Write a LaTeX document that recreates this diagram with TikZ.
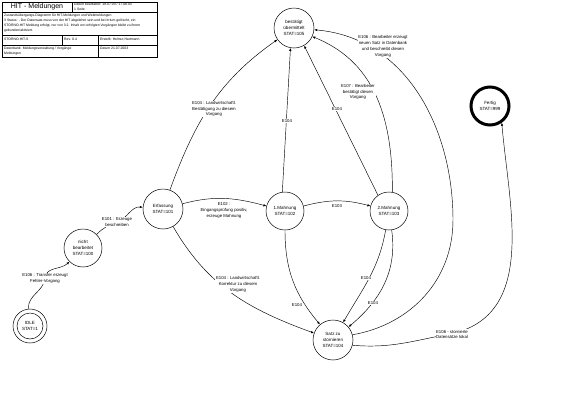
\documentclass[tikz,border=0pt]{standalone}
\usepackage{fontspec}
\setmainfont{Liberation Sans}
\usetikzlibrary{arrows.meta}
\begin{document}
\begin{tikzpicture}[x=1pt,y=1pt,
  stnode/.style={circle,draw,line width=0.5pt,minimum size=40pt,inner sep=0pt,align=center,font=\fontsize{4.5}{5.8}\selectfont},
  conn/.style={draw,line width=0.45pt,-{Latex[length=3pt,width=2.4pt]}},
  lab/.style={fill=white,inner sep=0.6pt,align=center,font=\fontsize{4.3}{5.8}\selectfont},
  hd/.style={font=\fontsize{3.4}{5}\selectfont,inner sep=0pt,anchor=north west,align=left},
  tline/.style={draw,line width=0.5pt}]
\useasboundingbox (0,0) rectangle (574,-400);

% header table
\draw[tline] (2,-2) rectangle (157,-57);
\draw[tline] (2,-12) -- (157,-12);
\draw[tline] (72,-2) -- (72,-12);
\draw[tline] (2,-35) -- (157,-35);
\draw[tline] (2,-45) -- (157,-45);
\draw[tline] (62,-35) -- (62,-45);
\draw[tline] (98,-35) -- (98,-57);
\node[font=\fontsize{7}{8}\selectfont,inner sep=0pt] (title) at (37,-7) {HIT - Meldungen};
\node[hd] (date) at (74,-3.3) {Datum bearbeitet: 18.07.03 / 17.08.03\\1 Seite};
\node[hd] (desc) at (4,-13.5) {Zustandsübergangs-Diagramm für HIT-Meldungen und Webmeldungen\\
3 Status: - Der Datensatz muss von der HIT abgelehnt sein und bei Irrtum gelöscht, ein\\
STORNO-HIT Meldung erfolgt, nur von 3.2. Inhalt von erfolgten Vorgängen bleibt zu ihrem\\
gebunden/aktiviert.};
\node[hd] (r3a) at (4,-37.5) {STORNO-HIT-S};
\node[hd] (r3b) at (64,-37.5) {Rev. 0.4};
\node[hd] (r3c) at (100,-37.5) {Erstellt: Helmut Hartmann};
\node[hd] (r4a) at (4,-47) {Datenbank: Meldungsverwaltung / Vorgänge\\Meldungen};
\node[hd] (r4b) at (100,-47) {Datum 21.07.2003};

% states
\node[stnode] (best) at (294,-28) {bestätigt\\übermittelt\\STAT=105};
\node[stnode,line width=3pt,minimum size=38pt] (fertig) at (490,-106) {Fertig\\STAT=999};
\node[stnode] (erf) at (163,-209) {Erfassung\\STAT=101};
\node[stnode,minimum size=38pt] (m1) at (285,-211) {1.Mahnung\\STAT=102};
\node[stnode,minimum size=38pt] (m2) at (389,-211) {2.Mahnung\\STAT=103};
\node[stnode,minimum size=38pt] (nb) at (83,-248) {nicht\\bearbeitet\\STAT=100};
\node[stnode,minimum size=34pt] (idle) at (30,-326) {IDLE\\STAT=1};
\draw[line width=0.5pt] (idle.center) circle[radius=13];
\node[stnode] (satz) at (333,-340) {Satz zu\\stornieren\\STAT=104};

% helper coordinates
\coordinate (cI) at (45,-278);
\coordinate (cN) at (117,-222);
\coordinate (cR) at (453,-220);
\coordinate (cF) at (455,-333);

% connectors
\draw[conn] (idle.95) to[out=95,in=-95] (cI) to[out=85,in=225] (nb);
\draw[conn] (nb) to[out=45,in=200] (cN) to[out=20,in=175] (erf);
\draw[conn] (erf) to[out=15,in=165] (m1);
\draw[conn] (m1) to[out=15,in=165] (m2);
\draw[conn] (erf) to[out=70,in=215] (best);
\draw[conn] (erf) to[out=-60,in=160] (satz);
\draw[conn] (m1.98) -- (best.-100);
\draw[conn] (m2.125) -- (best.-60);
\draw[conn] (m2.80) .. controls (393,-110) and (370,-60) .. (best.-25);
\draw[conn] (satz.15) to[out=10,in=-90] (cR) to[out=90,in=-5] (best);
\draw[conn] (m1) to[out=-90,in=130] (satz);
\draw[conn] (m2) to[out=-100,in=60] (satz);
\draw[conn] (m2) to[out=-82,in=40] (satz);
\draw[conn] (satz.-15) to[out=-5,in=190] (cF) to[out=15,in=-85] (fertig.-55);

% labels
\node[lab] (l1) at (45,-278) {E106 : Transfer erzeugt\\Fehler-Vorgang};
\node[lab] (l2) at (117,-222) {E101 : Erzeuge\\beschreiben};
\node[lab,fill=none] (l3) at (224,-210.5) {E102 :\\Eingangsprüfung positiv,\\erzeuge Mahnung};
\node[lab,fill=none] (l4) at (337,-206) {E103};
\node[lab] (l5) at (214,-109) {E104 : Landwirtschaftl.\\Bestätigung zu diesem\\Vorgang};
\node[lab] (l6) at (238,-284.5) {E104 : Landwirtschaftl.\\Korrektur zu diesem\\Vorgang};
\node[lab] (l7) at (287,-121) {E104};
\node[lab] (l8) at (337,-109) {E104};
\node[lab] (l9) at (358,-92) {E107 : Bearbeiter\\bestätigt diesen\\Vorgang};
\node[lab] (l10) at (383,-46.5) {E106 : Bearbeiter erzeugt\\neuen Satz in Datenbank\\und beschreibt diesen\\Vorgang};
\node[lab] (l11) at (297,-305) {E104};
\node[lab] (l12) at (366,-278) {E104};
\node[lab] (l13) at (373,-303) {E104};
\node[lab] (l14) at (452,-334.5) {E106 - stornierte\\Datensätze lokal};
\end{tikzpicture}
\end{document}
